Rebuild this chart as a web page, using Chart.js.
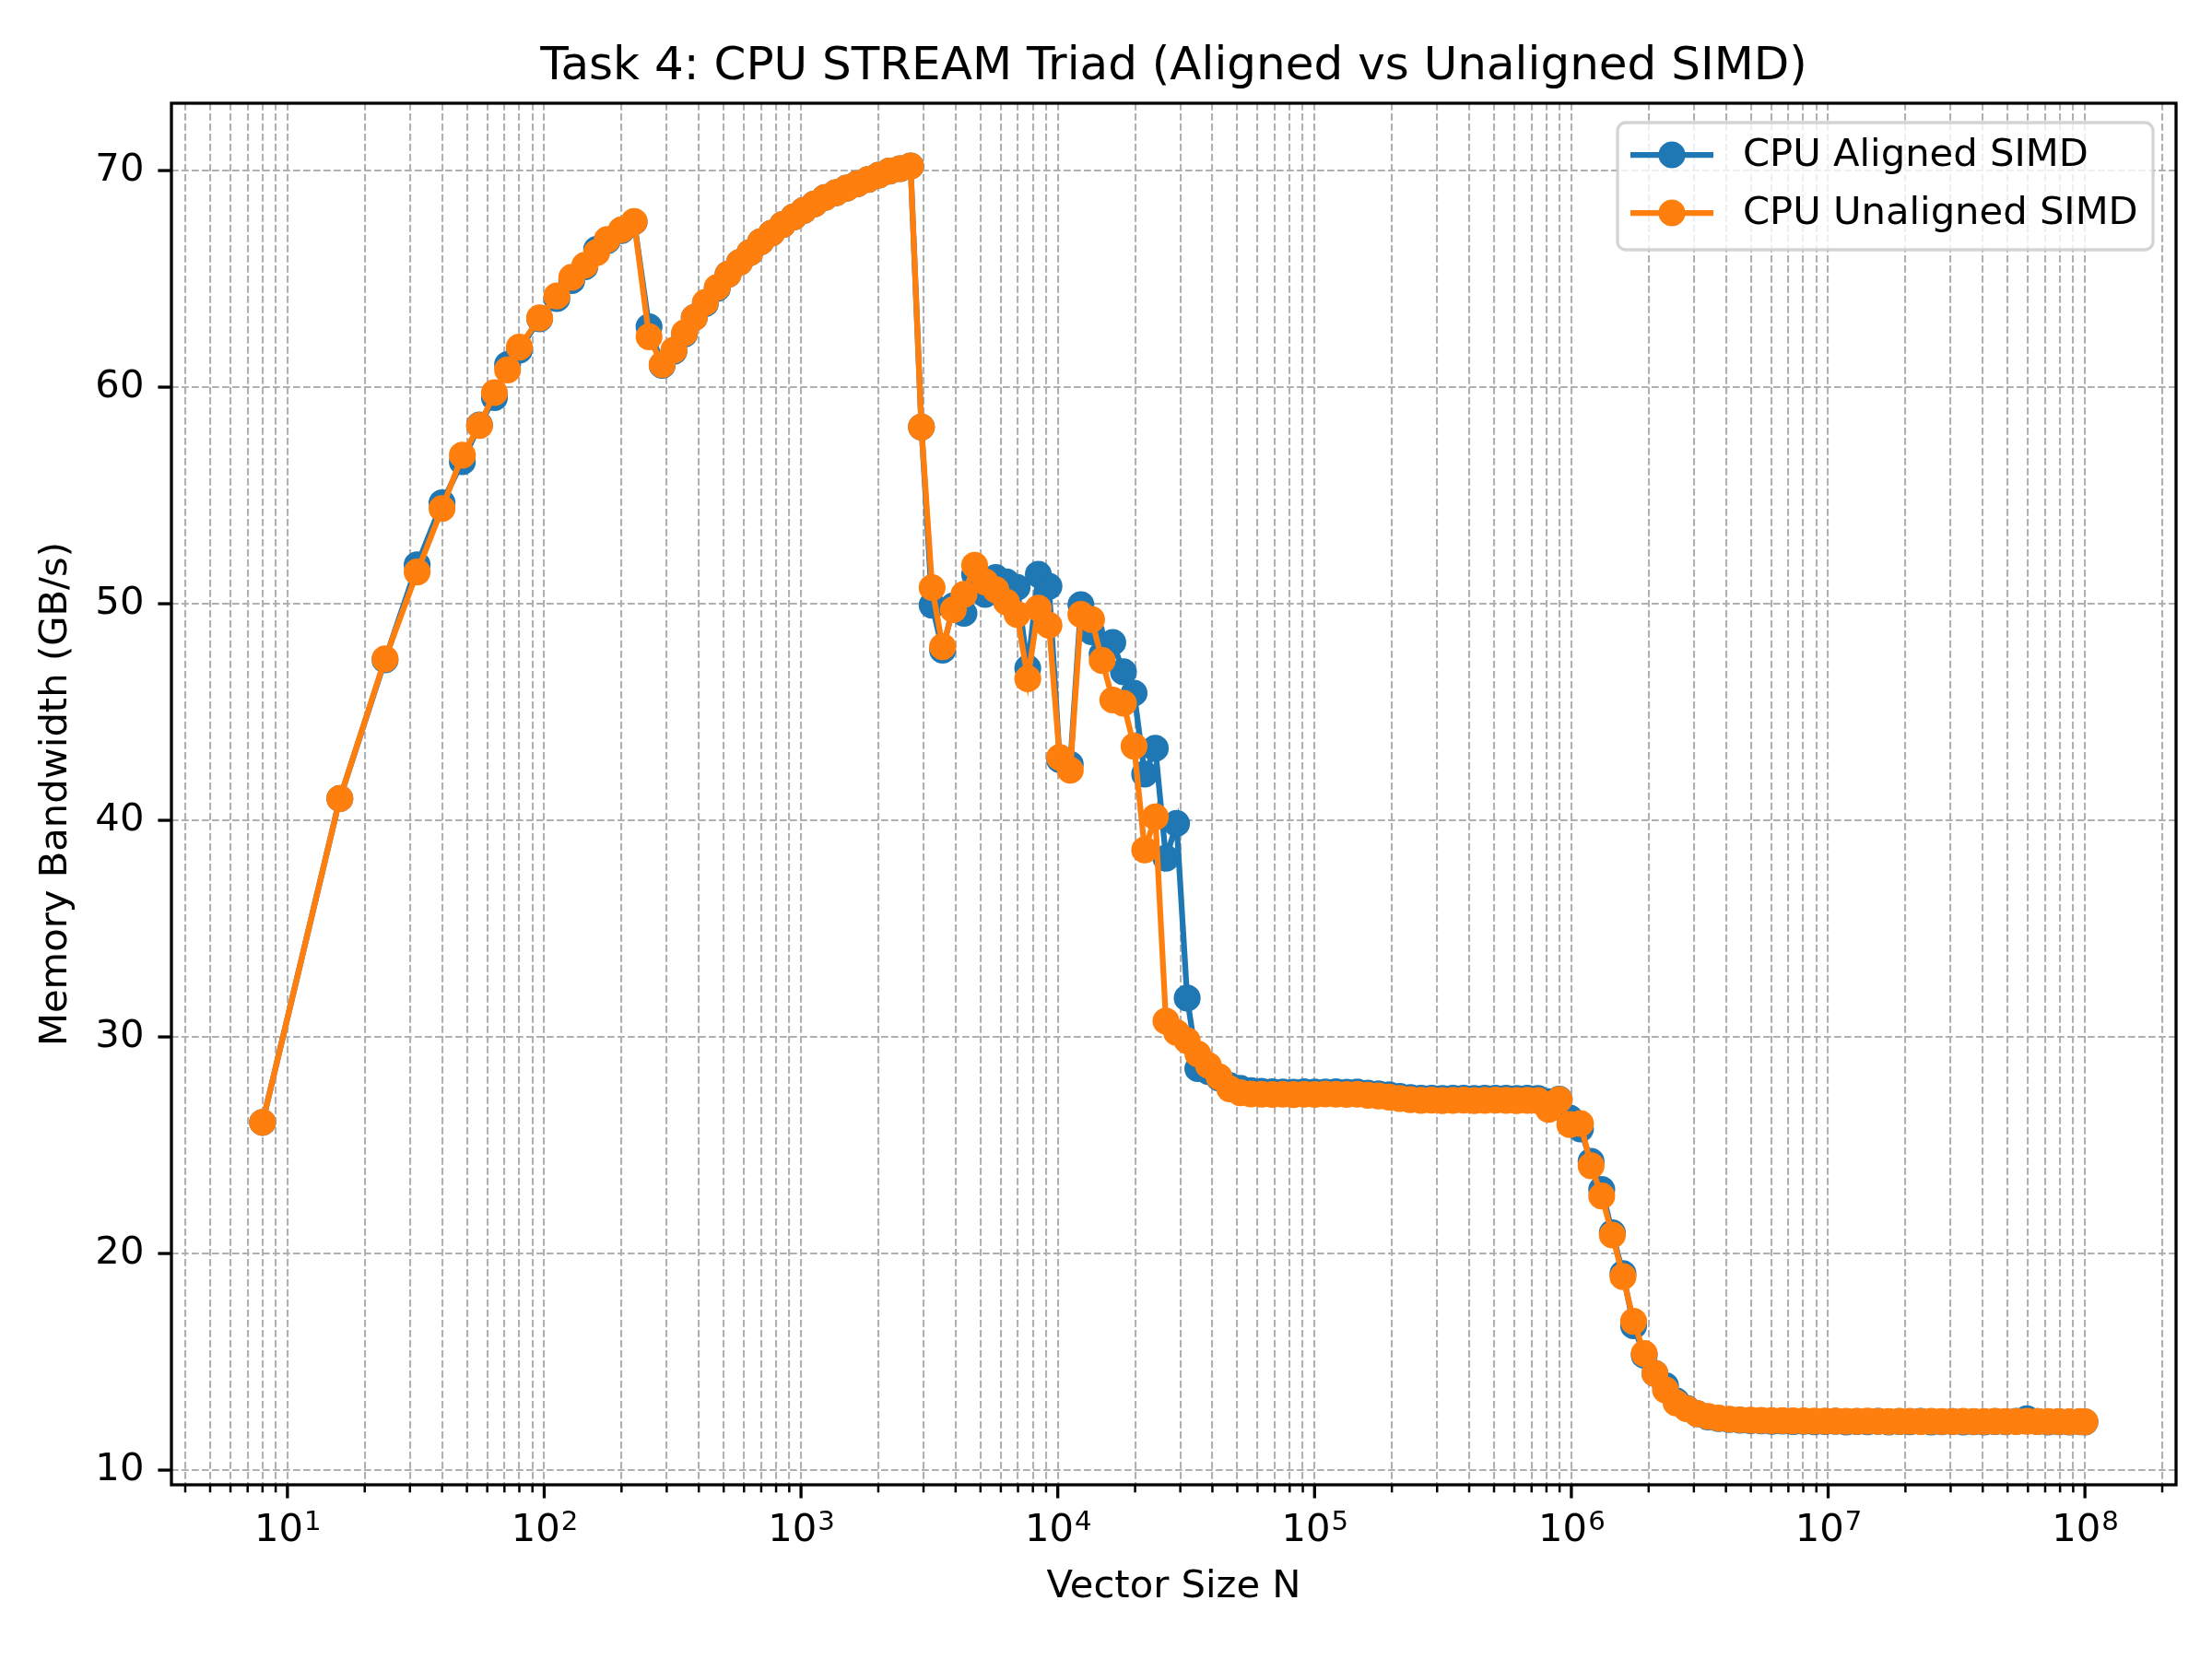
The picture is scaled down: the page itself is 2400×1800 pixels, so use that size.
<!DOCTYPE html>
<html>
<head>
<meta charset="utf-8">
<title>Task 4: CPU STREAM Triad</title>
<script src="https://cdn.jsdelivr.net/npm/chart.js@4.4.1/dist/chart.umd.min.js"></script>
<style>
  html, body { margin: 0; padding: 0; background: #fff; }
  canvas { display: block; }
</style>
</head>
<body>
<canvas id="triad" width="2400" height="1800"></canvas>
<script>
// vector sizes N (x values)
const sizes = [
  8, 16, 24, 32, 40, 48, 56, 64, 72, 80,
  96, 112, 128, 144, 160, 176, 200, 224, 256, 288,
  320, 352, 384, 424, 472, 520, 576, 632, 696, 768,
  848, 936, 1024, 1128, 1240, 1368, 1504, 1656, 1824, 2008,
  2208, 2432, 2672, 2944, 3240, 3560, 3920, 4312, 4744, 5216,
  5736, 6312, 6944, 7640, 8400, 9240, 10168, 11184, 12304, 13536,
  14888, 16376, 18016, 19816, 21800, 23976, 26376, 29016, 31912, 35104,
  38616, 42480, 46728, 51400, 56536, 62192, 68408, 75248, 82776, 91048,
  100152, 110168, 121184, 133304, 146632, 161296, 177424, 195168, 214688, 236152,
  259768, 285744, 314320, 345752, 380328, 418360, 460200, 506216, 556840, 612520,
  673776, 741152, 815264, 896792, 986472, 1085120, 1193632, 1312992, 1444296, 1588728,
  1747600, 1922360, 2114592, 2326048, 2558656, 2814520, 3095976, 3405568, 3746128, 4120744,
  4532816, 4986096, 5484704, 6033176, 6636496, 7300144, 8030160, 8833176, 9716488, 10688136,
  11756952, 12932648, 14225912, 15648504, 17213352, 18934688, 20828160, 22910976, 25202072, 27722280,
  30494504, 33543952, 36898344, 40588176, 44647000, 49111704, 54022872, 59425160, 65367672, 71904440,
  79094888, 87004376, 95704816, 100000000
];

// GB/s, aligned loads/stores
const alignedBw = [
  26.05, 41.0, 47.4, 51.79, 54.65, 56.55, 58.25, 59.51, 61.03, 61.7,
  63.15, 64.08, 64.91, 65.55, 66.35, 66.75, 67.22, 67.62, 62.78, 61.0,
  61.65, 62.45, 63.2, 63.85, 64.55, 65.2, 65.75, 66.2, 66.7, 67.1,
  67.5, 67.85, 68.15, 68.45, 68.75, 68.97, 69.18, 69.38, 69.58, 69.78,
  69.97, 70.08, 70.2, 58.15, 49.93, 47.85, 49.9, 49.55, 51.35, 50.43,
  51.2, 51.0, 50.75, 47.02, 51.35, 50.8, 42.8, 42.58, 49.95, 48.7,
  47.67, 48.21, 46.85, 45.87, 42.13, 43.32, 38.25, 39.85, 31.79, 28.53,
  28.4, 28.1, 27.75, 27.62, 27.52, 27.48, 27.46, 27.45, 27.44, 27.46,
  27.45, 27.45, 27.46, 27.44, 27.45, 27.4, 27.37, 27.32, 27.25, 27.2,
  27.16, 27.17, 27.15, 27.16, 27.17, 27.15, 27.16, 27.17, 27.16, 27.15,
  27.16, 27.15, 27.0, 27.12, 26.25, 25.75, 24.25, 22.95, 20.95, 19.07,
  16.66, 15.3, 14.46, 13.9, 13.2, 12.85, 12.6, 12.45, 12.38, 12.33,
  12.3, 12.28, 12.27, 12.25, 12.26, 12.24, 12.25, 12.23, 12.24, 12.25,
  12.22, 12.24, 12.23, 12.25, 12.22, 12.24, 12.23, 12.25, 12.22, 12.23,
  12.24, 12.22, 12.23, 12.22, 12.24, 12.23, 12.25, 12.37, 12.24, 12.22,
  12.23, 12.22, 12.23, 12.22
];

// GB/s, unaligned loads/stores
const unalignedBw = [
  26.05, 41.0, 47.45, 51.46, 54.39, 56.85, 58.22, 59.74, 60.79, 61.84,
  63.19, 64.2, 65.06, 65.62, 66.2, 66.81, 67.26, 67.64, 62.32, 61.03,
  61.7, 62.5, 63.2, 63.9, 64.6, 65.2, 65.75, 66.2, 66.7, 67.1,
  67.5, 67.85, 68.15, 68.45, 68.75, 68.97, 69.18, 69.38, 69.58, 69.78,
  69.97, 70.08, 70.2, 58.15, 50.74, 48.01, 49.72, 50.43, 51.77, 51.0,
  50.64, 50.07, 49.5, 46.53, 49.79, 49.0, 42.9, 42.31, 49.5, 49.27,
  47.37, 45.55, 45.4, 43.42, 38.63, 40.15, 30.73, 30.2, 29.82, 29.21,
  28.68, 28.15, 27.6, 27.42, 27.36, 27.35, 27.34, 27.35, 27.33, 27.35,
  27.34, 27.36, 27.35, 27.34, 27.35, 27.3, 27.27, 27.22, 27.15, 27.1,
  27.07, 27.08, 27.06, 27.07, 27.08, 27.06, 27.07, 27.08, 27.07, 27.06,
  27.07, 27.06, 26.65, 27.1, 25.95, 26.0, 24.05, 22.65, 20.85, 18.93,
  16.87, 15.38, 14.46, 13.7, 13.1, 12.83, 12.6, 12.48, 12.4, 12.35,
  12.32, 12.3, 12.29, 12.28, 12.28, 12.27, 12.27, 12.26, 12.26, 12.26,
  12.25, 12.25, 12.26, 12.25, 12.24, 12.25, 12.25, 12.24, 12.25, 12.24,
  12.24, 12.25, 12.24, 12.24, 12.25, 12.24, 12.24, 12.25, 12.24, 12.24,
  12.24, 12.23, 12.24, 12.23
];

// axis ticks
const xDecades = [1e1, 1e2, 1e3, 1e4, 1e5, 1e6, 1e7, 1e8];
const xExponents = ['1', '2', '3', '4', '5', '6', '7', '8'];
const xMinorSteps = [2, 3, 4, 5, 6, 7, 8, 9];
const yTickStep = 10;

const xMin = 3.534, xMax = 2.264e8;
const yMin = 9.32, yMax = 73.1;

const FONT = 'DejaVu Sans';
const LABEL_PX = 41.7;
const BLUE = '#1f77b4';
const ORANGE = '#ff7f0e';
const GRID = '#b0b0b0';

// every grid/tick position on the log axis: majors plus 2..9 minors
const xGridValues = [];
[1, ...xDecades].forEach(d => {
  xGridValues.push(d);
  xMinorSteps.forEach(m => xGridValues.push(m * d));
});
const xTickValues = xGridValues.filter(v => v >= xMin && v <= xMax);

const toPoints = ys => sizes.map((n, i) => ({ x: n, y: ys[i] }));

Chart.defaults.font.family = FONT;
Chart.defaults.color = '#000';

// ticks, frame and legend drawn the way matplotlib does them
const mplAxes = {
  id: 'mplAxes',
  afterDraw(chart) {
    const { ctx, chartArea: a, scales: { x } } = chart;
    ctx.save();

    // x tick marks
    ctx.strokeStyle = '#000';
    x.ticks.forEach(t => {
      const px = x.getPixelForValue(t.value);
      const major = xDecades.includes(t.value);
      ctx.lineWidth = major ? 3.3 : 2.5;
      ctx.beginPath();
      ctx.moveTo(px, a.bottom);
      ctx.lineTo(px, a.bottom + (major ? 14.6 : 8.3));
      ctx.stroke();
    });

    // x tick labels: 10 with superscript exponent
    ctx.fillStyle = '#000';
    ctx.textBaseline = 'alphabetic';
    ctx.textAlign = 'left';
    const baseY = a.bottom + 61;
    xDecades.forEach((v, i) => {
      const px = x.getPixelForValue(v);
      ctx.font = `${LABEL_PX}px "${FONT}"`;
      const wb = ctx.measureText('10').width;
      ctx.font = `${LABEL_PX * 0.7}px "${FONT}"`;
      const we = ctx.measureText(xExponents[i]).width;
      const left = px - (wb + we) / 2;
      ctx.font = `${LABEL_PX}px "${FONT}"`;
      ctx.fillText('10', left, baseY);
      ctx.font = `${LABEL_PX * 0.7}px "${FONT}"`;
      ctx.fillText(xExponents[i], left + wb + 1, baseY - 12);
    });

    // axes frame
    ctx.lineWidth = 3.3;
    ctx.strokeStyle = '#000';
    ctx.strokeRect(a.left, a.top, a.right - a.left, a.bottom - a.top);

    // legend
    const bw = 581, bh = 138;
    const bx = a.right - 25 - bw, by = a.top + 21;
    ctx.beginPath();
    ctx.roundRect(bx, by, bw, bh, 9);
    ctx.fillStyle = 'rgba(255,255,255,0.8)';
    ctx.fill();
    ctx.lineWidth = 3.3;
    ctx.strokeStyle = 'rgba(204,204,204,0.85)';
    ctx.stroke();

    const rows = [chart.data.datasets[0], chart.data.datasets[1]];
    rows.forEach((ds, i) => {
      const cy = by + 35 + i * 63;
      ctx.strokeStyle = ds.borderColor;
      ctx.lineWidth = ds.borderWidth;
      ctx.beginPath();
      ctx.moveTo(bx + 14, cy);
      ctx.lineTo(bx + 104, cy);
      ctx.stroke();
      ctx.beginPath();
      ctx.arc(bx + 59, cy, ds.pointRadius, 0, Math.PI * 2);
      ctx.fillStyle = ds.borderColor;
      ctx.fill();
      ctx.lineWidth = ds.pointBorderWidth;
      ctx.stroke();
      ctx.fillStyle = '#000';
      ctx.font = `${LABEL_PX}px "${FONT}"`;
      ctx.textBaseline = 'middle';
      ctx.fillText(ds.label, bx + 136, cy + 1);
    });

    ctx.restore();
  }
};

const ctx = document.getElementById('triad').getContext('2d');
new Chart(ctx, {
  type: 'line',
  data: {
    datasets: [
      {
        label: 'CPU Aligned SIMD',
        data: toPoints(alignedBw),
        borderColor: BLUE,
        backgroundColor: BLUE,
        pointBackgroundColor: BLUE,
        pointBorderColor: BLUE,
        borderWidth: 6.25,
        pointRadius: 12.5,
        pointBorderWidth: 4.2,
        tension: 0,
        order: 1,
      },
      {
        label: 'CPU Unaligned SIMD',
        data: toPoints(unalignedBw),
        borderColor: ORANGE,
        backgroundColor: ORANGE,
        pointBackgroundColor: ORANGE,
        pointBorderColor: ORANGE,
        borderWidth: 6.25,
        pointRadius: 12.5,
        pointBorderWidth: 4.2,
        tension: 0,
        order: 0,
      },
    ],
  },
  options: {
    responsive: false,
    animation: false,
    devicePixelRatio: 1,
    events: [],
    layout: { padding: { left: 0, right: 39, top: 0, bottom: 0 } },
    plugins: {
      legend: { display: false },
      tooltip: { enabled: false },
      title: {
        display: true,
        text: 'Task 4: CPU STREAM Triad (Aligned vs Unaligned SIMD)',
        fullSize: false,
        color: '#000',
        font: { size: 50, weight: 'normal' },
        padding: { top: 43, bottom: 9 },
      },
    },
    scales: {
      x: {
        type: 'logarithmic',
        min: xMin,
        max: xMax,
        afterBuildTicks: s => { s.ticks = xTickValues.map(v => ({ value: v })); },
        afterFit: s => { s.height = 189; },
        ticks: { display: false },
        grid: { color: GRID, lineWidth: 2.1, drawTicks: false },
        border: { display: false, dash: [7.7, 3.3] },
        title: {
          display: true,
          text: 'Vector Size N',
          color: '#000',
          font: { size: LABEL_PX },
          padding: { top: 0, bottom: 53 },
        },
      },
      y: {
        type: 'linear',
        min: yMin,
        max: yMax,
        afterFit: s => { s.width = 186; },
        ticks: {
          stepSize: yTickStep,
          includeBounds: false,
          color: '#000',
          font: { size: LABEL_PX },
          padding: 15,
        },
        grid: {
          color: GRID,
          lineWidth: 2.1,
          tickColor: '#000',
          tickWidth: 3.3,
          tickLength: 14.6,
          tickBorderDash: [],
        },
        border: { display: false, dash: [7.7, 3.3] },
        title: {
          display: true,
          text: 'Memory Bandwidth (GB/s)',
          color: '#000',
          font: { size: LABEL_PX },
          padding: { top: 36, bottom: 0 },
        },
      },
    },
  },
  plugins: [mplAxes],
});
</script>
</body>
</html>
